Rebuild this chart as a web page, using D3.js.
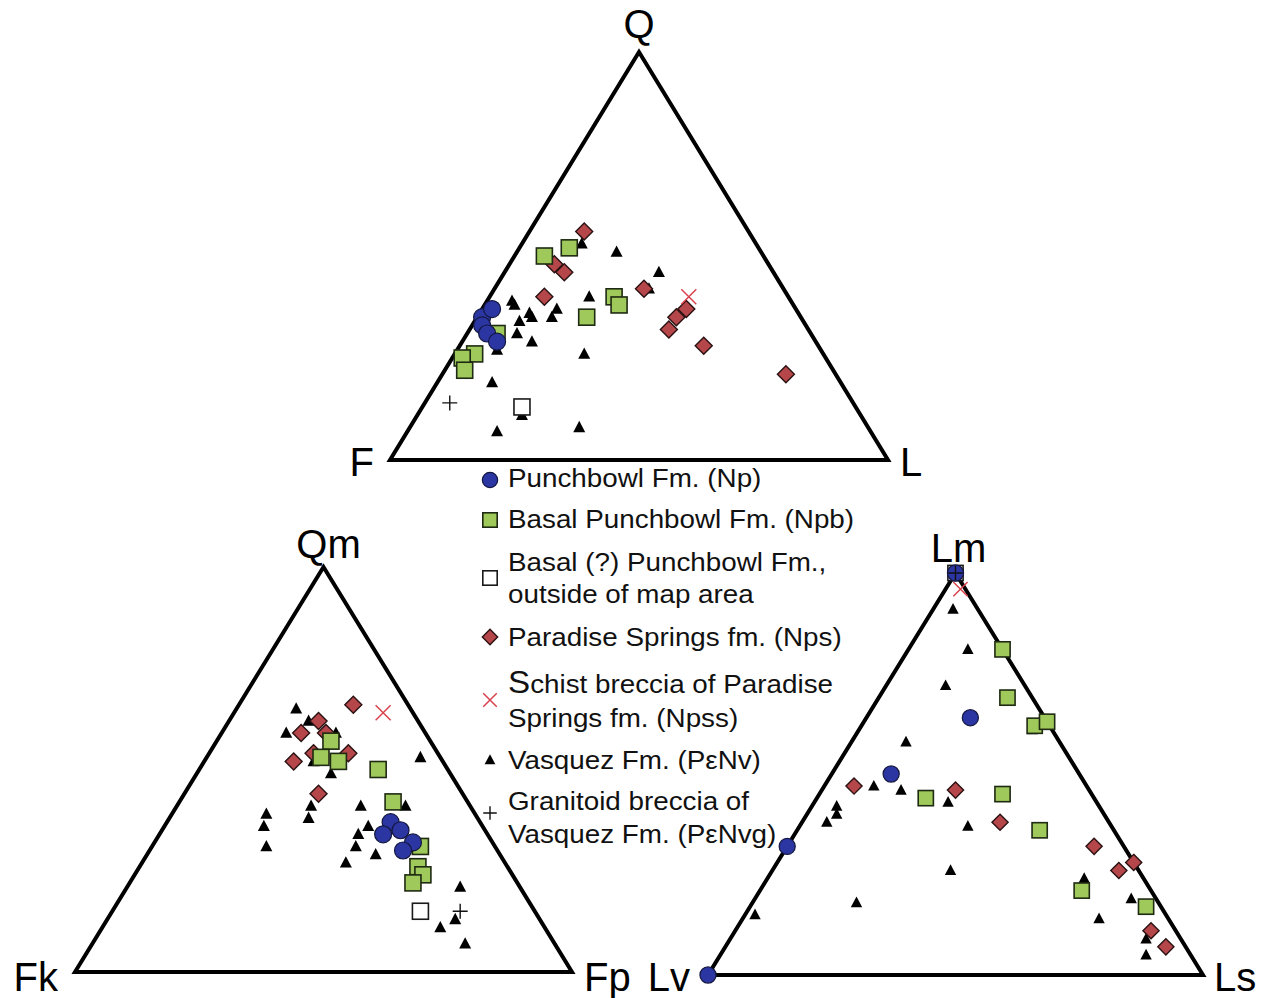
<!DOCTYPE html>
<html>
<head>
<meta charset="utf-8">
<script src="https://cdn.jsdelivr.net/npm/d3@7/dist/d3.min.js"></script>
<style>
  html, body { margin: 0; padding: 0; background: #ffffff; }
  svg { display: block; font-family: "Liberation Sans", Arial, Helvetica, sans-serif; }
</style>
</head>
<body>
<svg id="chart" width="1267" height="998"></svg>
<script>
// End members of each ternary diagram: [apex, left corner, right corner]
const qflVertices = ["Q", "F", "L"];
const qmfkfpVertices = ["Qm", "Fk", "Fp"];
const lmlvlsVertices = ["Lm", "Lv", "Ls"];

// Map units, in legend order
const unitCodes = ["Np", "Npb", "Npo", "Nps", "Npss", "Nv", "Nvg"];
const unitNames = [
  ["Punchbowl Fm. (Np)"],
  ["Basal Punchbowl Fm. (Npb)"],
  ["Basal (?) Punchbowl Fm.,", "outside of map area"],
  ["Paradise Springs fm. (Nps)"],
  ["Schist breccia of Paradise", "Springs fm. (Npss)"],
  ["Vasquez Fm. (P\u03b5Nv)"],
  ["Granitoid breccia of", "Vasquez Fm. (P\u03b5Nvg)"]
];

// Modal compositions, percent: [unit, apex, left, right]
const qflPoints = [
  ["Nv", 53, 35, 12], ["Nv", 51, 29, 20], ["Nv", 39, 56, 5], ["Nv", 38, 56, 6],
  ["Nv", 40, 40, 20], ["Nv", 36, 54, 10], ["Nv", 35, 54, 11], ["Nv", 37, 48, 15],
  ["Nv", 35, 50, 15], ["Nv", 34, 57, 9], ["Nv", 31, 59, 10], ["Nv", 29, 57, 14],
  ["Nv", 26, 48, 26], ["Nv", 27, 65, 8], ["Nv", 19, 70, 11], ["Nv", 11, 68, 21],
  ["Nv", 7, 75, 18], ["Nv", 8, 58, 34], ["Nv", 46, 23, 31], ["Nv", 42, 27, 31],
  ["Nps", 56, 33, 11], ["Nps", 48, 43, 9], ["Nps", 46, 42, 12], ["Nps", 40, 49, 11],
  ["Nps", 42, 28, 30], ["Nps", 37, 22, 41], ["Nps", 35, 25, 40], ["Nps", 32, 28, 40],
  ["Nps", 28, 23, 49], ["Nps", 21, 10, 69],
  ["Npb", 50, 44, 6], ["Npb", 52, 38, 10], ["Npb", 40, 35, 25], ["Npb", 38, 35, 27],
  ["Npb", 35, 43, 22], ["Npb", 31, 63, 6], ["Npb", 26, 70, 4], ["Npb", 25, 73, 2],
  ["Npb", 22, 74, 4],
  ["Npo", 13, 67, 20],
  ["Np", 35, 64, 1], ["Np", 37, 61, 2], ["Np", 33, 65, 2], ["Np", 31, 65, 4], ["Np", 29, 64, 7],
  ["Npss", 40, 20, 40],
  ["Nvg", 14, 81, 5]
];

const qmfkfpPoints = [
  ["Nv", 65, 23, 12], ["Nv", 62, 22, 16], ["Nv", 59, 28, 13], ["Nv", 59, 18, 23],
  ["Nv", 49, 24, 27], ["Nv", 52, 26, 22], ["Nv", 53, 4, 43], ["Nv", 41, 32, 27],
  ["Nv", 38, 34, 28], ["Nv", 41, 22, 37], ["Nv", 41, 13, 46], ["Nv", 39, 42, 19],
  ["Nv", 36, 44, 20], ["Nv", 31, 46, 23], ["Nv", 36, 23, 41], ["Nv", 34, 26, 40],
  ["Nv", 31, 28, 41], ["Nv", 27, 32, 41], ["Nv", 29, 25, 46], ["Nv", 21, 12, 67],
  ["Nv", 13, 17, 70], ["Nv", 11, 21, 68], ["Nv", 7, 18, 75],
  ["Nps", 66, 11, 23], ["Nps", 62, 20, 18], ["Nps", 59, 25, 16], ["Nps", 59, 20, 21],
  ["Nps", 54, 18, 28], ["Nps", 54, 25, 21], ["Nps", 52, 30, 18], ["Nps", 44, 29, 27],
  ["Npb", 57, 20, 23], ["Npb", 53, 24, 23], ["Npb", 52, 21, 27], ["Npb", 50, 14, 36],
  ["Npb", 42, 15, 43], ["Npb", 31, 15, 54], ["Npb", 26, 18, 56], ["Npb", 24, 18, 58],
  ["Npb", 22, 21, 57],
  ["Npo", 15, 23, 62],
  ["Np", 37, 18, 45], ["Np", 35, 17, 48], ["Np", 34, 21, 45], ["Np", 32, 16, 52], ["Np", 30, 19, 51],
  ["Npss", 64, 6, 30],
  ["Nvg", 15, 15, 70]
];

const lmlvlsPoints = [
  ["Nv", 91, 5, 4], ["Nv", 81, 7, 12], ["Nv", 72, 16, 12], ["Nv", 61, 4, 35],
  ["Nv", 58, 31, 11], ["Nv", 47, 43, 10], ["Nv", 46, 38, 16], ["Nv", 43, 30, 27],
  ["Nv", 37, 29, 34], ["Nv", 42, 53, 5], ["Nv", 40, 54, 6], ["Nv", 38, 57, 5],
  ["Nv", 15, 83, 2], ["Nv", 18, 61, 21], ["Nv", 26, 38, 36], ["Nv", 24, 12, 64],
  ["Nv", 19, 5, 76], ["Nv", 14, 14, 72], ["Nv", 9, 7, 84], ["Nv", 5, 9, 86],
  ["Nps", 47, 47, 6], ["Nps", 46, 27, 27], ["Nps", 38, 22, 40], ["Nps", 32, 6, 62],
  ["Nps", 26, 4, 70], ["Nps", 28, 0, 72], ["Nps", 11, 5, 84], ["Nps", 7, 4, 89],
  ["Npb", 81, 0, 19], ["Npb", 69, 5, 26], ["Npb", 62, 3, 35], ["Npb", 63, 0, 37],
  ["Npb", 44, 34, 22], ["Npb", 45, 18, 37], ["Npb", 36, 15, 49], ["Npb", 21, 14, 65],
  ["Npb", 17, 3, 80],
  ["Npo", 100, 0, 0],
  ["Np", 100, 0, 0], ["Np", 64, 15, 21], ["Np", 50, 38, 12], ["Np", 32, 68, 0], ["Np", 0, 100, 0],
  ["Npss", 96, 1, 3],
  ["Nvg", 100, 0, 0]
];

// Placement of the three diagrams on the page
const diagrams = [
  { vertices: qflVertices, points: qflPoints, x0: 390, x1: 888, yBase: 460, yApex: 52,
    apexLabel: [0, -14], leftLabel: [-16, 16], rightLabel: [12, 16], markerScale: 1 },
  { vertices: qmfkfpVertices, points: qmfkfpPoints, x0: 75, x1: 572, yBase: 972, yApex: 567,
    apexLabel: [5, -9], leftLabel: [-17, 19], rightLabel: [12, 19], markerScale: 1 },
  { vertices: lmlvlsVertices, points: lmlvlsPoints, x0: 708, x1: 1203, yBase: 975, yApex: 573,
    apexLabel: [3, -11], leftLabel: [-18, 16], rightLabel: [11, 16], markerScale: 0.95 }
];

// Units are stacked so that the small triangles sit underneath the larger symbols
const drawOrder = ["Nv", "Nps", "Npb", "Npo", "Np", "Npss", "Nvg"];

const style = {
  Np:   { fill: "#2b36a3", stroke: "#14173f" },
  Npb:  { fill: "#9fc95b", stroke: "#1f2a12" },
  Npo:  { fill: "#ffffff", stroke: "#1a1a1a" },
  Nps:  { fill: "#b5474a", stroke: "#2a1112" },
  Npss: { fill: "none",    stroke: "#d8424d" },
  Nv:   { fill: "#000000", stroke: "#000000" },
  Nvg:  { fill: "none",    stroke: "#111111" }
};

function drawMarker(g, unit, x, y, s) {
  const st = style[unit];
  const t = g.append("g").attr("transform", `translate(${x},${y})`);
  if (unit === "Np") {
    t.append("circle").attr("r", 8.5 * s)
      .attr("fill", st.fill).attr("stroke", st.stroke).attr("stroke-width", 1.2);
  } else if (unit === "Npb" || unit === "Npo") {
    const h = 8 * s;
    t.append("rect").attr("x", -h).attr("y", -h).attr("width", 2 * h).attr("height", 2 * h)
      .attr("fill", st.fill).attr("stroke", st.stroke).attr("stroke-width", 1.6);
  } else if (unit === "Nps") {
    const h = 8.5 * s;
    t.append("path").attr("d", `M0,${-h}L${h},0L0,${h}L${-h},0Z`)
      .attr("fill", st.fill).attr("stroke", st.stroke).attr("stroke-width", 1.4);
  } else if (unit === "Nv") {
    t.append("path").attr("d", `M0,${-6.5 * s}L${6 * s},${4.8 * s}L${-6 * s},${4.8 * s}Z`)
      .attr("fill", st.fill);
  } else if (unit === "Npss") {
    const h = 7.5 * s;
    t.append("path").attr("d", `M${-h},${-h}L${h},${h}M${-h},${h}L${h},${-h}`)
      .attr("fill", "none").attr("stroke", st.stroke).attr("stroke-width", 1.5);
  } else if (unit === "Nvg") {
    const h = 7.5 * s;
    t.append("path").attr("d", `M${-h},0L${h},0M0,${-h}L0,${h}`)
      .attr("fill", "none").attr("stroke", st.stroke).attr("stroke-width", 1.4);
  }
}

const svg = d3.select("#chart");

diagrams.forEach(d => {
  // Right-corner share runs along the base; the apex share lifts a point towards the top
  const x = d3.scaleLinear().domain([0, 100]).range([d.x0, d.x1]);
  const y = d3.scaleLinear().domain([0, 100]).range([d.yBase, d.yApex]);
  const px = (top, right) => x(right + top / 2);

  const g = svg.append("g");
  const corners = [[px(100, 0), y(100)], [px(0, 0), y(0)], [px(0, 100), y(0)]];

  g.append("path")
    .attr("d", d3.line()(corners) + "Z")
    .attr("fill", "none").attr("stroke", "#000").attr("stroke-width", 4)
    .attr("stroke-linejoin", "miter");

  const pts = d.points.slice().sort((a, b) => drawOrder.indexOf(a[0]) - drawOrder.indexOf(b[0]));
  pts.forEach(p => drawMarker(g, p[0], px(p[1], p[3]), y(p[1]), d.markerScale));

  const lab = g.append("g").attr("font-size", 40).attr("fill", "#000");
  lab.append("text").attr("text-anchor", "middle")
    .attr("x", corners[0][0] + d.apexLabel[0]).attr("y", corners[0][1] + d.apexLabel[1])
    .text(d.vertices[0]);
  lab.append("text").attr("text-anchor", "end")
    .attr("x", corners[1][0] + d.leftLabel[0]).attr("y", corners[1][1] + d.leftLabel[1])
    .text(d.vertices[1]);
  lab.append("text").attr("text-anchor", "start")
    .attr("x", corners[2][0] + d.rightLabel[0]).attr("y", corners[2][1] + d.rightLabel[1])
    .text(d.vertices[2]);
});

// Legend
const legendRows = [
  { markerY: 480, baselines: [487] },
  { markerY: 520, baselines: [528] },
  { markerY: 578, baselines: [571, 603] },
  { markerY: 637, baselines: [646] },
  { markerY: 700, baselines: [693, 727] },
  { markerY: 760, baselines: [769] },
  { markerY: 813, baselines: [810, 843] }
];
const legendX = 508;
const legend = svg.append("g").attr("font-size", 26).attr("fill", "#111");
unitCodes.forEach((code, i) => {
  const row = legendRows[i];
  drawMarker(legend, code, 490, row.markerY, 0.9);
  unitNames[i].forEach((line, j) => {
    // slightly wide lettering
    const t = legend.append("text")
      .attr("transform", `translate(${legendX},${row.baselines[j]}) scale(1.07,1)`);
    if (code === "Npss" && j === 0) {
      t.append("tspan").attr("font-size", 31).text(line.charAt(0));
      t.append("tspan").text(line.slice(1));
    } else {
      t.text(line);
    }
  });
});
</script>
</body>
</html>
